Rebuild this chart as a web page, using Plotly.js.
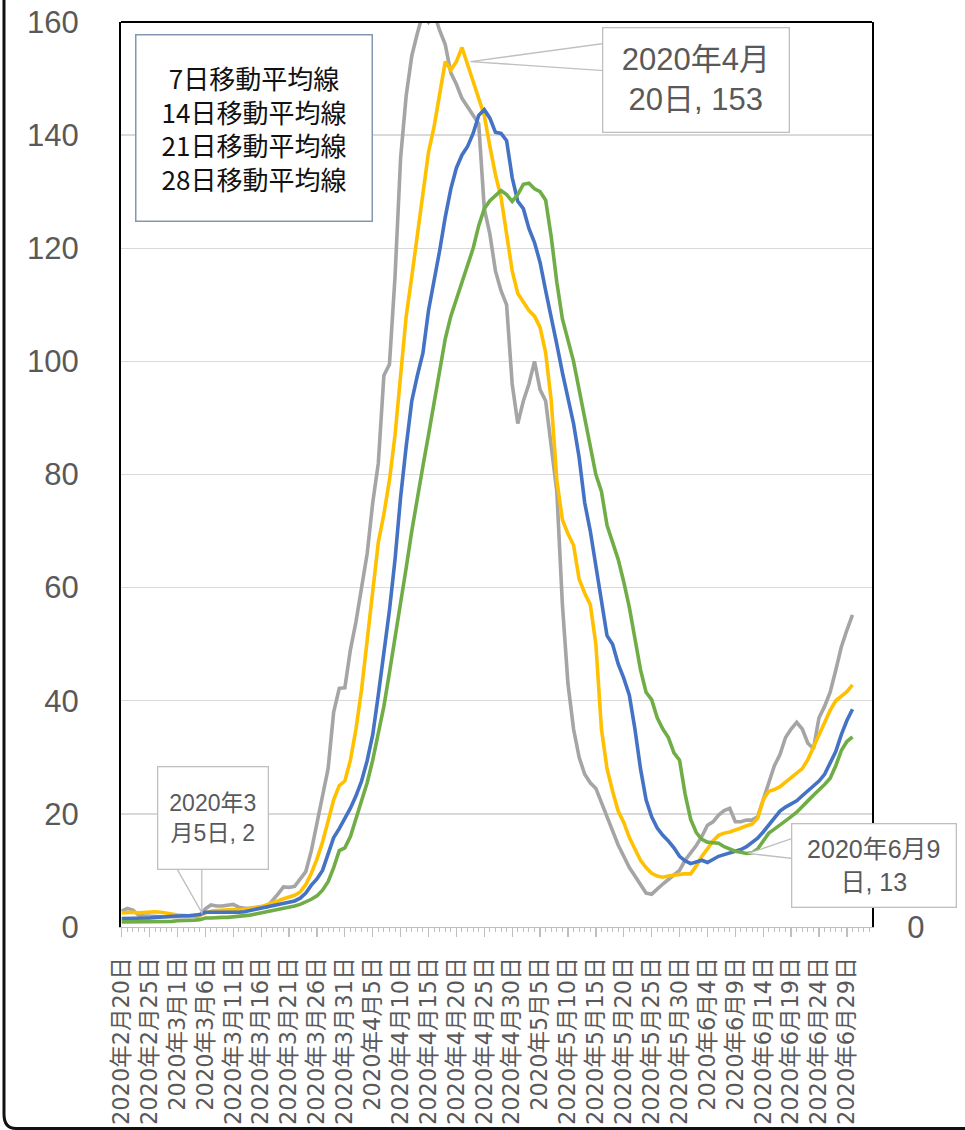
<!DOCTYPE html>
<html><head><meta charset="utf-8">
<script src="https://cdn.plot.ly/plotly-3.0.1.min.js"></script>
<style>html,body{margin:0;padding:0;background:#fff}</style>
</head><body><div id="chart" style="width:965px;height:1130px"></div>
<script>
const startDate = '2020-02-20';
const seriesNames = ['7日移動平均線','14日移動平均線','21日移動平均線','28日移動平均線'];
const seriesColors = ['#a5a5a5','#ffc000','#4472c4','#70ad47'];

const gray7 = [2.8,3.3,3.0,2.1,2.0,1.9,1.9,1.8,1.8,1.8,1.7,1.7,1.8,1.8,2.0,
  3.2,3.9,3.7,3.7,3.8,4.0,3.5,3.3,3.3,3.4,3.6,
  3.5,4.6,5.8,7.1,7.0,7.2,8.6,9.8,13.5,18.5,23,28,38,42.2,42.3,
  49,54,60,66,75,82,97.5,99.5,115,136,147,154,
  158,161.5,160,161.5,158.5,156,151,149,146.5,145,143.5,142,
  127,122.5,116,112.5,110,96,89,93,96,100,95,93,85,77,
  57,43,35,30,27,25.5,24.5,22,19.5,17,14.5,12.5,10.5,9,7.5,6,5.8,
  6.8,7.6,8.4,9.3,10,11.8,13,14.4,16,18,18.6,19.8,20.6,21,18.6,18.6,18.9,18.9,19.5,
  22.5,26,28.5,30.5,33.5,35,36.2,35,32.5,31.5,37,39,41.5,45.4,49.5,52.5,55.2];

const yellow14 = [2.5,2.6,2.6,2.5,2.6,2.6,2.7,2.6,2.5,2.3,2.1,2.0,2.0,2.0,2.1,
  2.5,2.8,2.9,3.0,3.0,3.1,3.0,3.1,3.2,3.4,3.6,
  3.9,4.2,4.6,5.0,5.3,5.6,6.2,7.5,9.5,12,15,19,22.5,25,25.8,
  29.5,35,42,51,60,68,73,79,87,97,108,115,
  122,130,137,141.5,147.5,153,151.5,153,155.5,152.5,149.5,146.5,
  143.5,138,133,129,122.5,116,112,110.5,109,108,106,101.5,93,79,
  72,69.5,67.5,61.5,59,57,50,35,28,24,20.5,18.5,15.8,13.8,11.8,10.5,9.5,
  9,8.8,9,9.2,9.3,9.4,9.4,10.8,12.5,13.8,15.2,16.2,16.6,16.8,17.1,17.5,17.9,18.2,19.2,
  22.5,24,24.3,24.8,25.6,26.3,27,28,29.6,31.7,33.8,36,38.3,40,40.9,41.6,42.8];

const blue21 = [1.5,1.5,1.5,1.5,1.6,1.6,1.7,1.7,1.8,1.9,2.0,2.0,2.0,2.1,2.2,
  2.6,2.6,2.6,2.5,2.5,2.6,2.6,2.7,2.9,3.1,3.3,
  3.5,3.7,3.9,4.1,4.3,4.6,5.1,6.0,7.4,8.5,10,13,15.8,17.4,19.2,
  21,23.2,25.8,29.4,34,41,48,56,65,76,85,93,
  97.5,101.5,109,114,119.6,125.5,130.5,134.2,136.5,138,140.3,143.5,
  144.5,143,140.5,140.3,139,132.5,128.3,127,123.5,121,117.5,112.5,108,103,
  98,93.5,89,83,75,70,64,58,51.5,50,46.5,44,41,35,28,22.5,19.5,
  17.5,16.2,15.2,14,12.5,11.7,11.2,11.5,11.8,11.4,12,12.5,12.8,13.1,13.5,13.7,14.2,14.9,15.7,
  16.8,18,19.3,20.5,21.2,21.8,22.3,23.2,24,24.8,25.8,27,29,31,34,36.5,38.5];

const green28 = [0.9,0.9,0.9,0.9,0.9,0.9,1.0,1.0,1.0,1.0,1.1,1.1,1.1,1.2,1.3,
  1.6,1.6,1.7,1.7,1.7,1.8,1.8,1.9,2.1,2.3,2.5,
  2.6,2.8,3.0,3.2,3.4,3.7,4.0,4.4,4.9,5.5,6.5,8,10.5,13.5,14,
  16,19,22,25.5,29.5,34,39,45,51,57,63.5,70,
  76,81.5,87,92.5,98.5,104,108,111,114,117,120,124,
  127,128.4,129.3,130.2,129.5,128.3,129.5,131.3,131.5,130.5,130,128.5,122,114,
  107.5,103.5,100,95,90,85,80,77,71,68,65,61,56.5,51,45.5,41.5,40.2,
  37,35,33.5,30.8,29.5,23.5,19,16.7,15.5,15,14.9,14.8,14.2,13.8,13.4,13.2,13.0,13.1,13.8,
  15.2,16.6,17.3,18,18.8,19.5,20.3,21.4,22.3,23.3,24.2,25.2,26.3,28.5,31.2,32.8,33.6];

const tickDates = ['2020-02-20','2020-02-25','2020-03-01','2020-03-06','2020-03-11','2020-03-16','2020-03-21','2020-03-26','2020-03-31',
  '2020-04-05','2020-04-10','2020-04-15','2020-04-20','2020-04-25','2020-04-30','2020-05-05','2020-05-10','2020-05-15','2020-05-20',
  '2020-05-25','2020-05-30','2020-06-04','2020-06-09','2020-06-14','2020-06-19','2020-06-24','2020-06-29'];
const tickLabels = ['2020年2月20日','2020年2月25日','2020年3月1日','2020年3月6日','2020年3月11日','2020年3月16日','2020年3月21日','2020年3月26日','2020年3月31日',
  '2020年4月5日','2020年4月10日','2020年4月15日','2020年4月20日','2020年4月25日','2020年4月30日','2020年5月5日','2020年5月10日','2020年5月15日','2020年5月20日',
  '2020年5月25日','2020年5月30日','2020年6月4日','2020年6月9日','2020年6月14日','2020年6月19日','2020年6月24日','2020年6月29日'];

// data callouts
const calloutDates = ['2020-03-05','2020-04-20','2020-06-09'];
const calloutValues = [2, 153, 13];
const calloutTexts = ['2020年3<br>月5日, 2','2020年4月<br>20日, 153','2020年6月9<br>日, 13'];

function dayList(start, n){
  const out = []; const t0 = Date.parse(start + 'T00:00:00Z');
  for (let i = 0; i < n; i++) out.push(new Date(t0 + i*86400000).toISOString().slice(0,10));
  return out;
}
const dates = dayList(startDate, gray7.length);
const allSeries = [gray7, yellow14, blue21, green28];

const traces = allSeries.map((s, i) => ({
  type:'scatter', mode:'lines', x: dates, y: s, name: seriesNames[i],
  line:{color: seriesColors[i], width:3.6}, hoverinfo:'skip'
}));
traces.push({type:'scatter', mode:'lines', x:[dates[0]], y:[null], yaxis:'y2', showlegend:false, hoverinfo:'skip'});

const GRAY = '#595959';
const calloutStyle = [
  {xshift:13, yshift:98, w:109, h:101, size:23, wedge:'M2,3 L-23,47 L2,47 Z'},
  {xshift:240, yshift:-18, w:185, h:103, size:31, wedge:'M14,0 L147,18 L147,-9 Z'},
  {xshift:139, yshift:-12, w:163, h:82, size:25, wedge:'M13,0 L57,15 L57,-5 Z'}
];

const shapes = [
  {type:'line', xref:'paper', yref:'paper', x0:0, x1:1, y0:1, y1:1, line:{color:'#000', width:2}, layer:'above'},
  {type:'path', xref:'paper', yref:'paper', path:'M -0.1558,1.03 L -0.1558,-0.2066 Q -0.1558,-0.2226 -0.1398,-0.2226 L 1.2,-0.2226', line:{color:'#111', width:3}}
];
const annotations = [];
calloutDates.forEach((d, i) => {
  const st = calloutStyle[i];
  shapes.push({type:'path', xref:'x', yref:'y', xsizemode:'pixel', ysizemode:'pixel', xanchor:d, yanchor:calloutValues[i],
    path: st.wedge, fillcolor:'#fff', line:{color:'#bfbfbf', width:1.3}, layer:'above'});
  annotations.push({xref:'x', yref:'y', x:d, y:calloutValues[i], xshift:st.xshift, yshift:st.yshift,
    text: calloutTexts[i], showarrow:false, xanchor:'center', yanchor:'middle',
    width:st.w, height:st.h, align:'center', valign:'middle',
    bgcolor:'#fff', bordercolor:'#bfbfbf', borderwidth:1.3, borderpad:0,
    font:{family:'Liberation Sans, Noto Sans CJK JP, sans-serif', size:st.size, color:GRAY}});
});
annotations.push({xref:'paper', yref:'paper', x:(253.5-121)/751, y:(927-127.5)/905, xanchor:'center', yanchor:'middle',
  text: seriesNames.join('<br>'), showarrow:false, align:'center', valign:'middle',
  width:235, height:185, borderpad:0, bgcolor:'#fff', bordercolor:'#8497b0', borderwidth:1.5,
  font:{family:'Noto Sans CJK JP, sans-serif', size:26, color:'#111'}});

const yTickFont = {family:'Liberation Sans, sans-serif', size:31, color:GRAY};
const layout = {
  width:965, height:1130,
  margin:{l:121, r:93, t:22, b:203, pad:0},
  paper_bgcolor:'#fff', plot_bgcolor:'#fff', showlegend:false,
  font:{family:'Liberation Sans, Noto Sans CJK JP, sans-serif', color:GRAY},
  xaxis:{type:'date', range:['2020-02-19 21:00','2020-07-03 12:00'],
    tickmode:'array', tickvals:tickDates, ticktext:tickLabels, tickangle:-90,
    ticks:'outside', ticklen:9, tickwidth:1.3, tickcolor:'#bfbfbf',
    minor:{ticks:'outside', ticklen:4, tickwidth:1, tickcolor:'#bfbfbf', tickmode:'linear', tick0:'2020-02-20', dtick:86400000, showgrid:false},
    showgrid:false, showline:true, linecolor:'#bfbfbf', linewidth:1.3, zeroline:false,
    tickfont:{family:'DejaVu Sans, Noto Sans CJK JP, sans-serif', size:22.5, color:GRAY}, ticklabelstandoff:11},
  yaxis:{range:[0,160], tickmode:'linear', tick0:0, dtick:20, showgrid:true, gridcolor:'#d9d9d9', gridwidth:1.3,
    showline:true, linecolor:'#000', linewidth:2, ticks:'', zeroline:false, tickfont:yTickFont, ticklabelstandoff:34},
  yaxis2:{overlaying:'y', side:'right', anchor:'x', range:[0,160], tickmode:'array', tickvals:[0], ticktext:['0'],
    showgrid:false, showline:true, linecolor:'#000', linewidth:2, ticks:'', zeroline:false, tickfont:yTickFont, ticklabelstandoff:27},
  shapes: shapes, annotations: annotations
};
Plotly.newPlot('chart', traces, layout, {displayModeBar:false, staticPlot:true});
</script></body></html>
